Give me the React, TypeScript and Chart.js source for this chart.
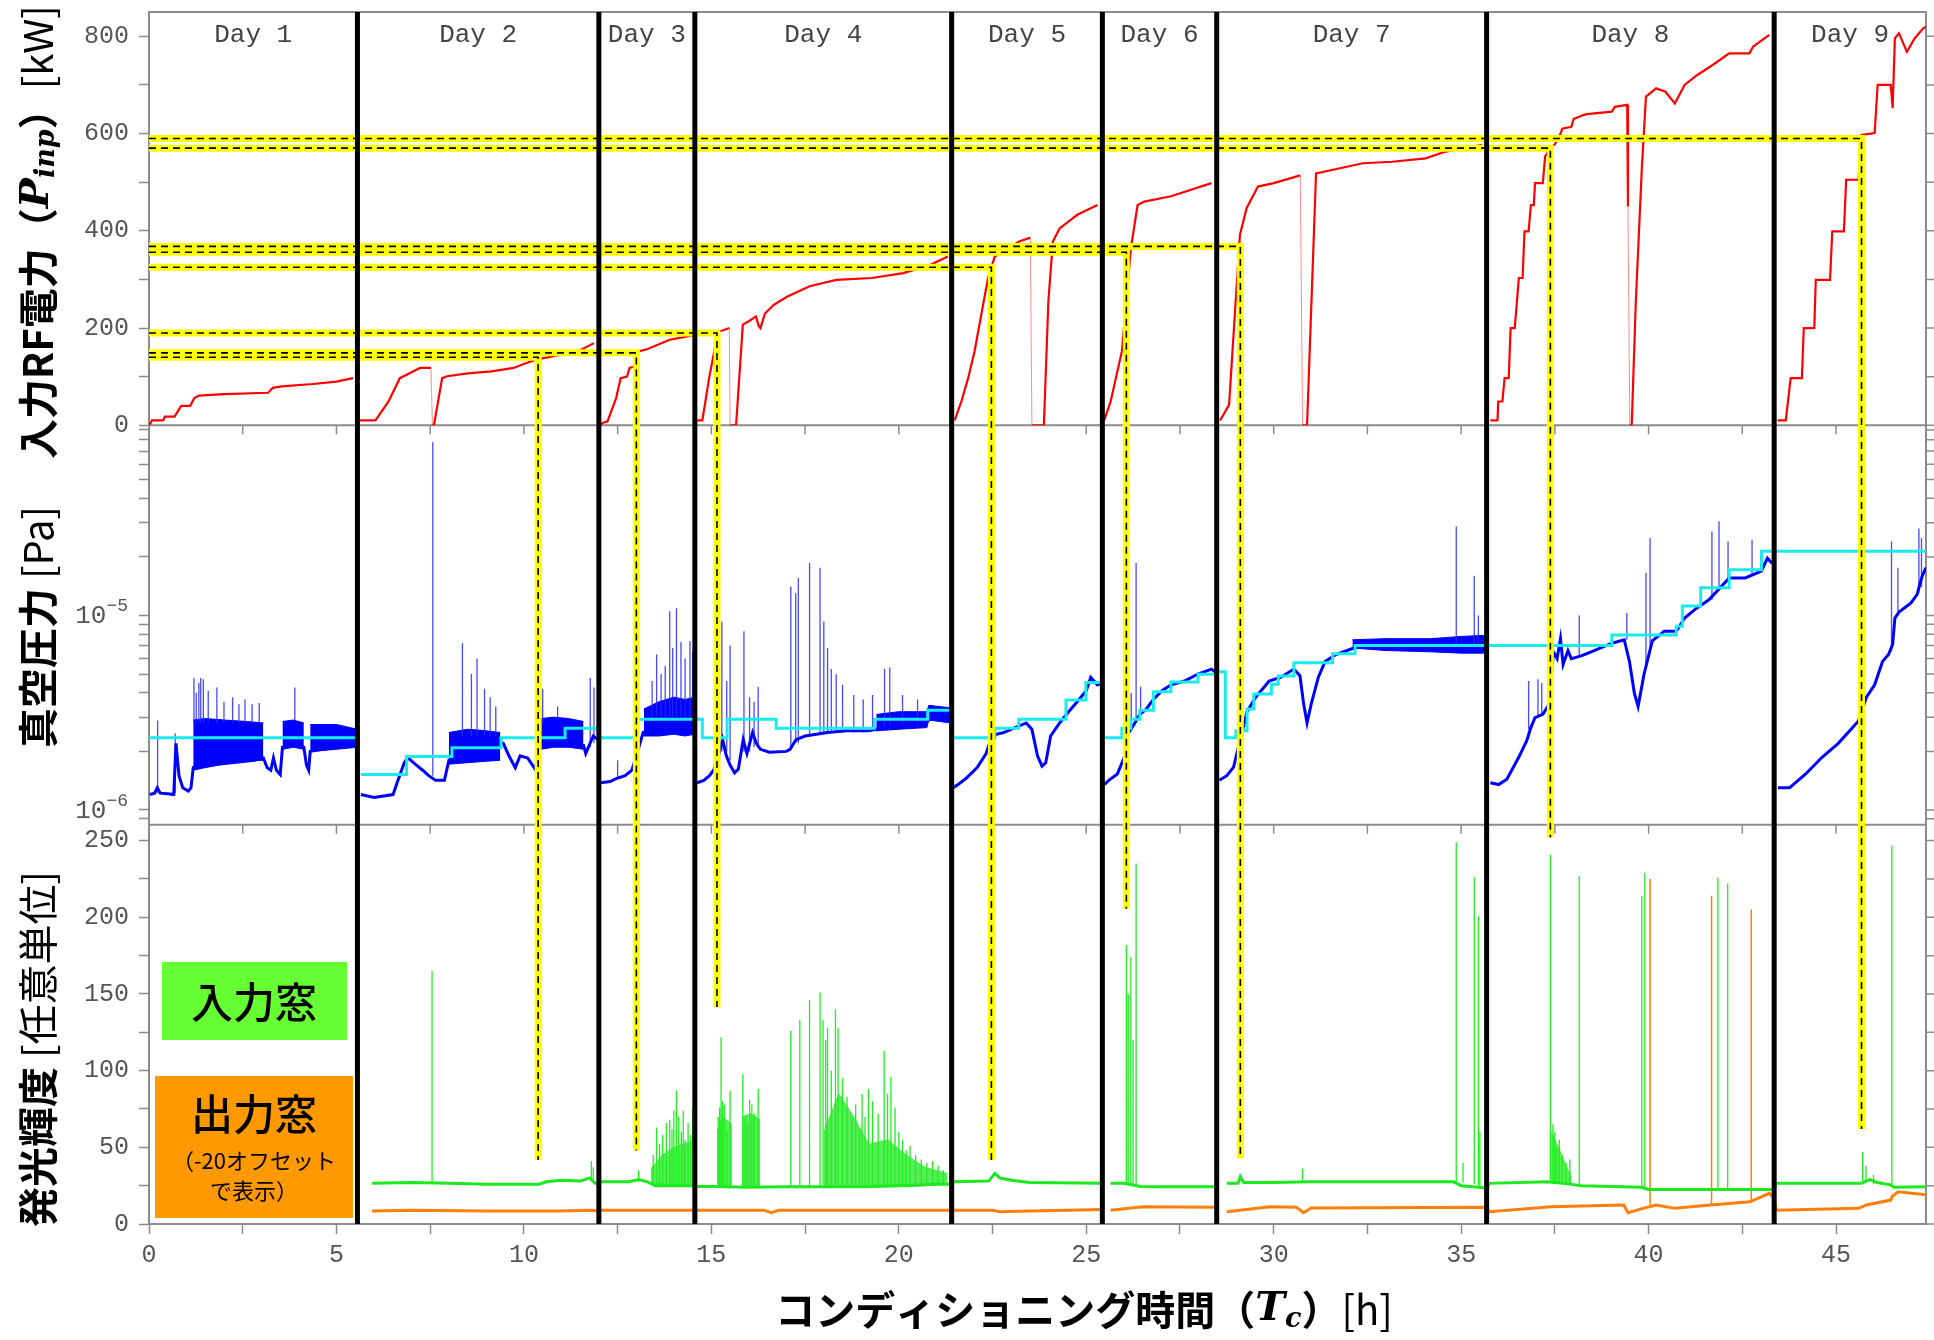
import React, { useEffect, useRef } from 'react';
import { Chart, registerables } from 'chart.js';

Chart.register(...registerables);

type P2 = [number, number];
type P3 = [number, number, number];

// ---------- axis ranges & ticks ----------
const X_MAX = 47.4;
const POWER_MAX = 850;
const PRESSURE_MIN = 8.4e-7;
const PRESSURE_MAX = 9.5e-5;
const LUM_MAX = 260.4;

const timeTicks = [0, 2.5, 5, 7.5, 10, 12.5, 15, 17.5, 20, 22.5, 25, 27.5, 30, 32.5, 35, 37.5, 40, 42.5, 45];
const powerTicks = [0, 100, 200, 300, 400, 500, 600, 700, 800];
const pressureTicks = [9e-7, 1e-6, 2e-6, 3e-6, 4e-6, 5e-6, 6e-6, 7e-6, 8e-6, 9e-6, 1e-5, 2e-5, 3e-5, 4e-5, 5e-5, 6e-5, 7e-5, 8e-5, 9e-5];
const pressureMajorTicks: [number, string][] = [[1e-6, '\u22126'], [1e-5, '\u22125']];
const lumTicks = [0, 25, 50, 75, 100, 125, 150, 175, 200, 225, 250];

// ---------- days ----------
const dayBoundaries = [5.56, 12.0, 14.56, 21.41, 25.43, 28.48, 35.68, 43.35];
const dayLabels = ['Day 1', 'Day 2', 'Day 3', 'Day 4', 'Day 5', 'Day 6', 'Day 7', 'Day 8', 'Day 9'];

// ---------- yellow guide markers ----------
const markerPower = [140, 149, 190, 325, 356, 368, 570, 590];
const markerTime = [10.38, 13.0, 15.15, 22.47, 26.07, 29.11, 37.38, 45.68];
const markerLumEnd = [41.7, 48, 141.5, 41.7, 205.5, 42.7, 252, 62];

// ---------- input RF power [kW] ----------
const rfPower: (P2 | null)[] = [
  [0, 0], [0.08, 10], [0.38, 10], [0.42, 18], [0.68, 18], [0.86, 40], [1.1, 40], [1.21, 56], [1.33, 61], [2.0, 64], [3.18, 67], [3.3, 77], [3.54, 80], [4.37, 85], [5.0, 90], [5.44, 97], null,
  [5.62, 10], [6.04, 10], [6.39, 49], [6.69, 97], [6.87, 104], [7.23, 118], [7.52, 118], [7.56, 0], [7.6, 0], [7.82, 97], [7.95, 101], [8.5, 107], [9.13, 111], [9.73, 118], [9.96, 125], [10.32, 135], [10.92, 144], [11.51, 155], [11.87, 169], null,
  [12.05, 0], [12.1, 5], [12.23, 8], [12.46, 56], [12.58, 97], [12.75, 100], [12.82, 118], [12.95, 121], [13.06, 152], [13.3, 157], [13.89, 176], [14.37, 183], [14.55, 186], null,
  [14.62, 10], [14.76, 10], [14.94, 97], [15.06, 145], [15.18, 193], [15.3, 195], [15.48, 200], [15.5, 0], [15.66, 0], [15.84, 207], [16.0, 214], [16.19, 224], [16.26, 205], [16.31, 200], [16.43, 230], [16.67, 248], [17.03, 265], [17.62, 286], [18.33, 299], [19.28, 303], [20.12, 313], [20.84, 330], [21.31, 347], null,
  [21.49, 10], [21.67, 49], [21.85, 97], [22.02, 152], [22.38, 303], [22.56, 347], [23.21, 378], [23.51, 386], [23.55, 0], [23.87, 0], [23.99, 255], [24.11, 378], [24.29, 405], [24.76, 433], [25.3, 453], null,
  [25.48, 10], [25.65, 49], [25.95, 152], [26.19, 364], [26.37, 453], [26.55, 460], [27.26, 471], [28.34, 498], null,
  [28.57, 10], [28.81, 42], [29.1, 392], [29.28, 447], [29.58, 491], [30.0, 498], [30.71, 514], [30.77, 0], [30.89, 0], [31.13, 518], [31.55, 525], [32.38, 539], [33.16, 542], [34.05, 549], [34.59, 563], [35.56, 577], null,
  [35.78, 10], [35.97, 10], [35.99, 49], [36.1, 49], [36.16, 97], [36.27, 97], [36.32, 200], [36.43, 200], [36.54, 303], [36.64, 303], [36.69, 399], [36.8, 399], [36.86, 453], [36.94, 453], [36.97, 498], [37.18, 498], [37.24, 553], [37.4, 572], [37.5, 578], [37.61, 592], [37.7, 610], [37.94, 614], [38.0, 630], [38.26, 638], [38.35, 640], [39.02, 645], [39.1, 655], [39.43, 659], [39.45, 450], [39.5, 0], [39.55, 0], [39.66, 255], [39.82, 529], [39.93, 676], [40.2, 693], [40.45, 686], [40.7, 662], [40.96, 700], [41.29, 720], [41.71, 741], [42.15, 765], [42.69, 765], [42.79, 779], [43.22, 803], null,
  [43.44, 10], [43.66, 10], [43.79, 97], [44.09, 97], [44.14, 200], [44.42, 200], [44.46, 299], [44.84, 299], [44.9, 399], [45.21, 399], [45.27, 505], [45.6, 505], [45.68, 597], [46.03, 601], [46.11, 700], [46.46, 700], [46.51, 652], [46.57, 796], [46.68, 806], [46.89, 768], [47.1, 796], [47.32, 816], [47.4, 820],
];

// ---------- vacuum pressure [Pa] ----------
const pressureTrace: (P2 | null)[] = [
  [0.02, 1.2e-6], [0.15, 1.22e-6], [0.22, 1.3e-6], [0.3, 1.22e-6], [0.5, 1.21e-6], [0.66, 1.2e-6], [0.72, 2.2e-6], [0.8, 1.5e-6], [0.9, 1.3e-6], [1.05, 1.25e-6], [1.12, 1.3e-6], [1.18, 1.65e-6], [1.6, 1.7e-6], [2.2, 1.75e-6], [2.8, 1.8e-6], [3.05, 1.85e-6], [3.15, 1.65e-6], [3.25, 1.6e-6], [3.32, 1.85e-6], [3.4, 1.6e-6], [3.5, 1.52e-6], [3.56, 2.1e-6], [3.85, 2.15e-6], [4.13, 2.1e-6], [4.2, 1.7e-6], [4.26, 1.6e-6], [4.3, 2.0e-6], [5.0, 2.1e-6], [5.54, 2.15e-6], null,
  [5.65, 1.2e-6], [6.0, 1.16e-6], [6.51, 1.2e-6], [6.63, 1.4e-6], [6.81, 1.75e-6], [6.9, 1.86e-6], [7.1, 1.72e-6], [7.3, 1.6e-6], [7.46, 1.5e-6], [7.64, 1.42e-6], [7.88, 1.42e-6], [8.0, 1.8e-6], [8.5, 1.8e-6], [9.0, 1.85e-6], [9.37, 2.2e-6], [9.45, 2.2e-6], [9.6, 1.9e-6], [9.77, 1.65e-6], [9.9, 1.9e-6], [10.1, 1.85e-6], [10.3, 1.62e-6], [10.44, 2.15e-6], [11.0, 2.2e-6], [11.59, 2.15e-6], [11.65, 1.95e-6], [11.72, 2.1e-6], [11.85, 2.4e-6], [11.98, 2.3e-6], null,
  [12.05, 1.38e-6], [12.3, 1.4e-6], [12.46, 1.45e-6], [12.7, 1.5e-6], [12.88, 1.6e-6], [13.0, 1.9e-6], [13.18, 2.5e-6], [13.6, 2.6e-6], [14.0, 2.7e-6], [14.55, 2.7e-6], null,
  [14.62, 1.38e-6], [14.8, 1.42e-6], [14.95, 1.5e-6], [15.06, 1.6e-6], [15.18, 1.85e-6], [15.3, 2.3e-6], [15.4, 1.9e-6], [15.5, 1.7e-6], [15.62, 1.55e-6], [15.72, 1.62e-6], [15.85, 2.3e-6], [15.95, 1.95e-6], [16.1, 2.5e-6], [16.2, 2.2e-6], [16.31, 2.05e-6], [16.55, 1.98e-6], [17.0, 2.0e-6], [17.1, 2.05e-6], [17.26, 2.3e-6], [17.5, 2.4e-6], [17.8, 2.45e-6], [18.1, 2.5e-6], [18.6, 2.55e-6], [19.2, 2.55e-6], [19.4, 2.6e-6], [19.8, 2.7e-6], [20.3, 2.75e-6], [20.8, 2.9e-6], [21.0, 3.1e-6], [21.38, 3.0e-6], null,
  [21.45, 1.3e-6], [21.6, 1.36e-6], [21.79, 1.45e-6], [22.09, 1.65e-6], [22.33, 1.95e-6], [22.45, 2.3e-6], [22.6, 2.45e-6], [22.8, 2.5e-6], [23.1, 2.65e-6], [23.4, 2.8e-6], [23.55, 2.6e-6], [23.7, 1.9e-6], [23.82, 1.68e-6], [23.92, 1.75e-6], [24.05, 2.4e-6], [24.29, 2.8e-6], [24.53, 3.2e-6], [24.76, 3.6e-6], [25.0, 4.1e-6], [25.12, 4.8e-6], [25.3, 4.4e-6], [25.4, 4.5e-6], null,
  [25.48, 1.35e-6], [25.6, 1.42e-6], [25.83, 1.53e-6], [26.01, 1.86e-6], [26.13, 2.5e-6], [26.25, 2.7e-6], [26.43, 3.1e-6], [26.6, 3.3e-6], [26.79, 3.7e-6], [27.02, 4.1e-6], [27.26, 4.4e-6], [27.62, 4.6e-6], [27.98, 5.0e-6], [28.34, 5.3e-6], [28.45, 5.1e-6], null,
  [28.55, 1.42e-6], [28.75, 1.5e-6], [28.93, 1.66e-6], [29.1, 2.27e-6], [29.29, 3.2e-6], [29.52, 3.8e-6], [29.88, 4.6e-6], [30.18, 4.8e-6], [30.54, 5.3e-6], [30.7, 4.9e-6], [30.8, 3.5e-6], [30.89, 2.8e-6], [31.0, 3.5e-6], [31.19, 4.8e-6], [31.37, 5.8e-6], [31.66, 6.3e-6], [32.14, 6.8e-6], [32.6, 7.1e-6], [33.5, 7.0e-6], [34.0, 6.9e-6], [35.0, 6.9e-6], [35.62, 6.9e-6], null,
  [35.78, 1.38e-6], [36.0, 1.35e-6], [36.22, 1.44e-6], [36.54, 1.87e-6], [36.75, 2.27e-6], [36.86, 2.65e-6], [36.97, 2.98e-6], [37.18, 3.1e-6], [37.35, 3.5e-6], [37.46, 6.5e-6], [37.56, 6.0e-6], [37.65, 7.6e-6], [37.72, 5.6e-6], [37.85, 6.6e-6], [37.94, 6.0e-6], [38.2, 6.2e-6], [38.47, 6.5e-6], [39.02, 7.2e-6], [39.35, 7.5e-6], [39.49, 5.8e-6], [39.62, 4.0e-6], [39.72, 3.4e-6], [39.88, 5.0e-6], [40.1, 7.4e-6], [40.42, 8.3e-6], [40.74, 8.3e-6], [40.96, 9.7e-6], [41.28, 1.09e-5], [41.6, 1.2e-5], [41.82, 1.33e-5], [42.15, 1.56e-5], [42.58, 1.56e-5], [43.01, 1.69e-5], [43.17, 1.97e-5], [43.3, 1.85e-5], null,
  [43.45, 1.3e-6], [43.76, 1.3e-6], [44.19, 1.53e-6], [44.62, 1.86e-6], [45.06, 2.2e-6], [45.6, 2.87e-6], [45.81, 3.8e-6], [46.03, 4.4e-6], [46.24, 5.8e-6], [46.4, 6.3e-6], [46.51, 7.1e-6], [46.57, 9.7e-6], [46.68, 1.04e-5], [47.0, 1.16e-5], [47.16, 1.28e-5], [47.3, 1.6e-5], [47.4, 1.76e-5],
];

// noisy bands: [t, low, high]
const noiseBandDay1a: P3[] = [[1.18, 1.6e-6, 2.9e-6], [1.5, 1.65e-6, 2.95e-6], [2.0, 1.72e-6, 2.9e-6], [2.6, 1.78e-6, 2.85e-6], [3.05, 1.8e-6, 2.8e-6]];
const noiseBandDay1b: P3[] = [[3.56, 2.05e-6, 2.85e-6], [3.85, 2.1e-6, 2.9e-6], [4.13, 2.05e-6, 2.8e-6]];
const noiseBandDay1c: P3[] = [[4.3, 2.0e-6, 2.75e-6], [5.0, 2.05e-6, 2.75e-6], [5.55, 2.1e-6, 2.6e-6]];
const noiseBandDay2a: P3[] = [[8.0, 1.72e-6, 2.5e-6], [8.5, 1.75e-6, 2.6e-6], [9.0, 1.78e-6, 2.55e-6], [9.37, 1.8e-6, 2.5e-6]];
const noiseBandDay2b: P3[] = [[10.44, 2.05e-6, 2.95e-6], [10.8, 2.1e-6, 3.0e-6], [11.2, 2.1e-6, 2.95e-6], [11.59, 2.05e-6, 2.85e-6]];
const noiseBandDay3: P3[] = [[13.2, 2.4e-6, 3.3e-6], [13.6, 2.4e-6, 3.6e-6], [14.0, 2.45e-6, 3.8e-6], [14.3, 2.4e-6, 3.7e-6], [14.55, 2.45e-6, 3.8e-6]];
const noiseBandDay4: P3[] = [[19.4, 2.55e-6, 3.1e-6], [20.0, 2.6e-6, 3.2e-6], [20.75, 2.65e-6, 3.2e-6], [20.8, 2.9e-6, 3.45e-6], [21.38, 2.8e-6, 3.35e-6]];
const noiseBandDay7: P3[] = [[32.1, 6.8e-6, 7.5e-6], [33.0, 6.6e-6, 7.6e-6], [34.2, 6.5e-6, 7.6e-6], [35.0, 6.4e-6, 7.8e-6], [35.65, 6.4e-6, 7.9e-6]];

// pressure bursts: [t, base, peak]
const pressureSpikes: P3[] = [
  [0.23, 1.22e-6, 2.88e-6], [0.7, 1.22e-6, 2.47e-6], [1.2, 2.8e-6, 4.77e-6], [1.26, 2.8e-6, 4.0e-6], [1.33, 2.8e-6, 4.5e-6], [1.38, 2.8e-6, 4.77e-6], [1.45, 2.8e-6, 4.7e-6], [1.58, 2.8e-6, 4.1e-6], [1.81, 2.8e-6, 4.26e-6], [2.0, 2.8e-6, 3.6e-6], [2.23, 2.8e-6, 3.8e-6], [2.4, 2.8e-6, 3.5e-6], [2.56, 2.8e-6, 3.7e-6], [2.75, 2.8e-6, 3.5e-6], [2.94, 2.8e-6, 3.55e-6], [3.89, 2.9e-6, 4.26e-6],
  [7.57, 1.5e-6, 7.8e-5], [8.36, 2.4e-6, 7.2e-6], [8.6, 2.4e-6, 5.0e-6], [8.75, 2.4e-6, 6.0e-6], [8.95, 2.4e-6, 4.2e-6], [9.1, 2.4e-6, 3.8e-6], [9.25, 2.4e-6, 3.4e-6], [10.5, 2.8e-6, 4.2e-6], [10.9, 2.9e-6, 3.4e-6], [11.77, 2.1e-6, 4.77e-6], [11.87, 2.2e-6, 4.26e-6],
  [12.5, 1.45e-6, 1.8e-6], [13.42, 3.0e-6, 4.6e-6], [13.54, 3.0e-6, 6.3e-6], [13.66, 3.0e-6, 5.0e-6], [13.77, 3.0e-6, 5.5e-6], [13.89, 3.0e-6, 1.05e-5], [13.97, 3.0e-6, 6.8e-6], [14.07, 3.0e-6, 1.09e-5], [14.19, 3.0e-6, 7.3e-6], [14.3, 3.0e-6, 6.0e-6], [14.43, 3.0e-6, 7.4e-6], [14.5, 3.0e-6, 6.5e-6],
  [15.28, 2.0e-6, 9.3e-6], [15.41, 2.0e-6, 4.6e-6], [15.5, 1.8e-6, 7.0e-6], [15.87, 2.0e-6, 8.3e-6], [16.02, 2.0e-6, 3.8e-6], [16.14, 2.1e-6, 3.6e-6], [16.25, 2.1e-6, 4.3e-6], [17.12, 2.05e-6, 1.41e-5], [17.25, 2.2e-6, 1.3e-5], [17.32, 2.2e-6, 1.56e-5], [17.62, 2.4e-6, 1.86e-5], [17.9, 2.45e-6, 1.76e-5], [18.0, 2.45e-6, 9.3e-6], [18.1, 2.5e-6, 6.8e-6], [18.2, 2.5e-6, 5.3e-6], [18.33, 2.5e-6, 5.0e-6], [18.5, 2.5e-6, 4.4e-6], [18.8, 2.5e-6, 3.9e-6], [19.05, 2.5e-6, 3.7e-6], [19.3, 2.55e-6, 3.9e-6], [19.62, 2.6e-6, 5.3e-6], [19.76, 2.6e-6, 5.4e-6], [20.1, 2.7e-6, 3.9e-6], [20.5, 2.7e-6, 3.7e-6],
  [26.2, 2.6e-6, 4.0e-6], [26.33, 2.9e-6, 1.86e-5], [26.45, 3.1e-6, 4.3e-6],
  [34.87, 7.0e-6, 2.87e-5], [35.35, 7.0e-6, 1.6e-5], [35.46, 7.0e-6, 1.0e-5],
  [36.8, 2.6e-6, 4.6e-6], [37.05, 3.0e-6, 4.7e-6], [37.15, 3.1e-6, 4.5e-6], [37.4, 4.0e-6, 7.7e-6], [38.15, 6.2e-6, 1.0e-5], [39.42, 7.5e-6, 1.03e-5], [39.93, 5.5e-6, 1.66e-5], [40.04, 6.5e-6, 2.5e-5], [41.69, 1.2e-5, 2.7e-5], [41.88, 1.35e-5, 3.05e-5], [42.12, 1.5e-5, 2.4e-5], [42.76, 1.6e-5, 2.45e-5],
  [46.48, 6.5e-6, 2.4e-5], [46.65, 1.0e-5, 1.76e-5], [47.21, 1.3e-5, 2.8e-5], [47.28, 1.4e-5, 2.5e-5],
];

// interlock threshold (cyan steps): [start time, level]
const pressureThreshold: (P2 | null)[] = [
  [0, 2.35e-6], [5.56, 2.35e-6], null,
  [5.65, 1.52e-6], [6.87, 1.88e-6], [8.08, 2.09e-6], [9.39, 2.35e-6], [11.1, 2.63e-6], [12.0, 2.63e-6], null,
  [12.05, 2.35e-6], [13.0, 2.93e-6], [14.76, 2.35e-6], [15.42, 2.93e-6], [16.73, 2.63e-6], [19.35, 2.93e-6], [20.77, 3.26e-6], [21.41, 3.26e-6], null,
  [21.45, 2.35e-6], [22.56, 2.63e-6], [23.2, 2.93e-6], [24.46, 3.67e-6], [24.99, 4.52e-6], [25.43, 4.52e-6], null,
  [25.47, 2.35e-6], [25.95, 2.63e-6], [26.19, 2.93e-6], [26.43, 3.26e-6], [26.79, 4.05e-6], [27.26, 4.55e-6], [27.98, 4.98e-6], [28.48, 5.13e-6],
  [28.71, 2.35e-6], [28.99, 2.55e-6], [29.29, 3.3e-6], [29.47, 3.94e-6], [29.94, 4.43e-6], [30.12, 4.89e-6], [30.54, 5.72e-6], [31.57, 6.35e-6], [32.17, 7.0e-6], [39.02, 7.93e-6], [40.74, 8.81e-6], [40.9, 1.12e-5], [41.39, 1.39e-5], [42.15, 1.72e-5], [43.01, 2.14e-5], [47.4, 2.14e-5],
];

// ---------- luminosity [a.u.] ----------
const lumInputWindow: (P2 | null)[] = [
  [5.95, 26.5], [7.0, 27], [8.0, 26.5], [9.0, 26], [10.4, 26], [10.6, 27.5], [11.0, 28.5], [11.5, 28], [11.75, 30], [11.9, 26.5], [12.0, 26.5],
  [12.05, 27.5], [12.8, 27.5], [13.06, 29], [13.3, 27.5], [13.5, 25], [14.0, 25], [14.56, 25],
  [14.62, 24.5], [15.0, 24.5], [16.0, 24], [17.0, 24.3], [18.0, 24.3], [19.0, 24.3], [20.0, 25], [21.0, 26], [21.41, 26], null,
  [21.45, 27.5], [22.4, 28], [22.56, 33], [22.7, 30], [23.0, 28.5], [23.5, 27], [25.43, 26.5], null,
  [25.65, 26.5], [26.0, 26.5], [26.45, 24.5], [27.0, 24.3], [28.48, 24.3], null,
  [28.75, 26.5], [29.05, 26.5], [29.11, 31], [29.2, 27], [30.0, 27], [31.0, 27.5], [33.0, 27.5], [34.8, 27.5], [35.0, 25], [35.68, 23.5],
  [35.75, 26.5], [37.3, 27.5], [37.9, 26], [38.2, 25], [39.8, 24], [40.0, 22.5], [43.35, 22.5],
  [43.4, 26.5], [45.68, 26.5], [45.9, 29], [46.1, 27], [46.45, 25.5], [46.55, 24], [47.4, 24.3],
];

// dense luminous activity: [t, base, envelope]
const inputNoiseDay3: P3[] = [[13.38, 27, 36], [13.7, 26, 45], [14.0, 25, 50], [14.48, 25, 54]];
const inputNoiseDay4a: P3[] = [[15.15, 24.5, 60], [15.3, 24.5, 70], [15.55, 24.5, 65]];
const inputNoiseDay4b: P3[] = [[15.82, 24.5, 70], [16.05, 24.5, 72], [16.3, 24.5, 68]];
const inputNoiseDay4c: P3[] = [[18.0, 24.3, 60], [18.4, 24.3, 85], [18.8, 24.3, 70], [19.2, 24.3, 52], [19.7, 24.3, 55], [20.2, 24.5, 45], [20.7, 25, 37], [21.3, 26, 33]];
const inputNoiseDay8: P3[] = [[37.4, 27, 60], [37.6, 27, 50], [37.8, 26.5, 38], [37.95, 26, 30]];

const inputWindowSpikes: P3[] = [
  [7.55, 27, 165], [11.8, 28, 41], [11.85, 28, 37],
  [13.06, 27.5, 35], [13.45, 25, 45], [13.54, 25, 63], [13.62, 25, 52], [13.7, 25, 58], [13.8, 25, 66], [13.89, 25, 68], [13.95, 25, 62], [14.0, 25, 74], [14.07, 25, 87], [14.13, 25, 70], [14.2, 25, 60], [14.25, 25, 74], [14.3, 25, 55], [14.38, 25, 66], [14.45, 25, 58], [14.5, 25, 75],
  [15.18, 24.5, 70], [15.22, 24.5, 76], [15.26, 24.5, 122], [15.3, 24.5, 80], [15.35, 24.5, 78], [15.42, 24.5, 60], [15.5, 24.5, 87], [15.84, 24.5, 98], [15.9, 24.5, 70], [15.95, 24.5, 66], [16.02, 24.5, 81], [16.08, 24.5, 78], [16.14, 24.5, 72], [16.25, 24.5, 88],
  [17.12, 24.3, 126], [17.36, 24.3, 133], [17.62, 24.3, 146], [17.9, 24.3, 151], [17.98, 24.3, 133], [18.05, 24.3, 120], [18.1, 24.3, 128], [18.2, 24.3, 100], [18.31, 24.3, 140], [18.38, 24.3, 128], [18.5, 24.3, 95], [18.62, 24.3, 83], [18.75, 24.3, 70], [18.85, 24.3, 78], [18.95, 24.3, 62], [19.02, 24.3, 85], [19.1, 24.3, 70], [19.19, 24.3, 88], [19.3, 24.3, 80], [19.45, 24.3, 72], [19.61, 24.3, 113], [19.7, 24.3, 85], [19.79, 24.3, 96], [19.9, 24.3, 76], [20.0, 25, 60], [20.1, 25, 55], [20.2, 25, 48], [20.3, 25, 51], [20.45, 25, 45], [20.6, 25, 42], [20.75, 25, 40], [20.9, 25, 41], [21.05, 26, 38], [21.19, 26, 35],
  [26.07, 26.5, 182], [26.12, 26.5, 150], [26.19, 26.5, 174], [26.25, 26, 120], [26.33, 25, 235],
  [30.77, 27.5, 36], [34.87, 27.5, 249], [35.05, 27, 40], [35.35, 26, 226], [35.46, 25, 201], [35.5, 25, 60],
  [37.38, 27.5, 241], [37.45, 27.5, 65], [37.5, 27.5, 60], [37.55, 27.5, 50], [37.62, 27, 55], [37.7, 27, 45], [37.8, 26.5, 40], [37.9, 26, 42], [38.15, 25, 227], [39.82, 24, 214], [39.9, 24, 229], [41.85, 22.5, 226], [42.11, 22.5, 222],
  [45.71, 26.5, 47], [45.8, 27, 38], [46.0, 26, 32], [46.49, 25.5, 247],
];

const lumOutputWindow: (P2 | null)[] = [
  [5.95, 8.5], [7.0, 9], [9.0, 8.5], [11.0, 8.5], [11.8, 9], [12.0, 8.5],
  [12.05, 9], [14.56, 9], [14.62, 9], [16.4, 9], [16.6, 7.4], [16.8, 9], [21.41, 9], null,
  [21.45, 9], [22.5, 9], [22.7, 8], [23.5, 8.5], [25.43, 9.5], null,
  [25.65, 9], [26.5, 11.3], [28.48, 11], null,
  [28.75, 8], [29.9, 11.3], [30.6, 11], [30.8, 7.4], [31.0, 10.5], [35.68, 11],
  [35.75, 8], [37.4, 11.3], [39.34, 12.4], [39.45, 7.4], [39.9, 10.5], [40.2, 12.4], [40.7, 10.2], [41.5, 12], [42.7, 14.5], [43.22, 20], [43.35, 17],
  [43.4, 9], [45.6, 10.2], [45.81, 12.4], [46.46, 15.6], [46.5, 18], [46.66, 21], [47.4, 19],
];

const outputWindowSpikes: P3[] = [[40.04, 12.4, 225], [41.68, 12.8, 214], [42.74, 14.5, 205]];

// ---------- helpers ----------
function toXY(arr: (P2 | null)[]) {
  const out: { x: number; y: number | null }[] = [];
  let lastX = 0;
  for (const p of arr) {
    if (p) { out.push({ x: p[0], y: p[1] }); lastX = p[0]; }
    else out.push({ x: lastX, y: null });
  }
  return out;
}
function spikesXY(arr: P3[]) {
  const out: { x: number; y: number | null }[] = [];
  for (const s of arr) {
    out.push({ x: s[0], y: s[1] }, { x: s[0], y: s[2] }, { x: s[0], y: null });
  }
  return out;
}

type Run = { text: string; font: string; dy?: number };
function drawRuns(ctx: CanvasRenderingContext2D, runs: Run[], cx: number, cy: number) {
  let total = 0;
  const widths = runs.map((r) => { ctx.font = r.font; const w = ctx.measureText(r.text).width; total += w; return w; });
  let x = cx - total / 2;
  ctx.textAlign = 'left';
  ctx.textBaseline = 'middle';
  ctx.fillStyle = '#000';
  runs.forEach((r, i) => { ctx.font = r.font; ctx.fillText(r.text, x, cy + (r.dy || 0)); x += widths[i]; });
}

const CJK = '"Noto Sans CJK JP"';
const MONO = '"Liberation Mono", monospace';
const MATH = '"DejaVu Serif"';
const TICK_COLOR = '#555';
const FRAME = '#8c8c8c';

const decorPlugin = {
  id: 'decor',
  beforeDatasetsDraw(chart: any) {
    const { ctx, chartArea: a, scales } = chart;
    ctx.save();
    ctx.strokeStyle = FRAME;
    ctx.lineWidth = 2;
    ctx.beginPath();
    ctx.moveTo(a.left, a.top); ctx.lineTo(a.right, a.top); ctx.lineTo(a.right, a.bottom);
    for (const id of ['yP', 'yV']) { const s = scales[id]; ctx.moveTo(a.left, s.bottom); ctx.lineTo(a.right, s.bottom); }
    ctx.stroke();
    ctx.lineWidth = 1.5;
    ctx.beginPath();
    for (const id of ['yV', 'yL']) {
      const top = scales[id].top;
      for (const v of timeTicks) { const px = scales.x.getPixelForValue(v); ctx.moveTo(px, top); ctx.lineTo(px, top + 9); }
    }
    for (const id of ['yP', 'yV', 'yL']) {
      const s = scales[id];
      for (const t of s.ticks) { const py = s.getPixelForValue(t.value); ctx.moveTo(a.right, py); ctx.lineTo(a.right + 8, py); }
    }
    ctx.stroke();
    ctx.restore();
  },
  afterDatasetsDraw(chart: any) {
    const { ctx, chartArea: a, scales } = chart;
    const { x, yP, yL } = scales;
    ctx.save();
    const paths = markerPower.map((p, i) => ({
      y0: yP.getPixelForValue(p), x1: x.getPixelForValue(markerTime[i]), y1: yL.getPixelForValue(markerLumEnd[i]),
    }));
    ctx.lineJoin = 'miter';
    ctx.strokeStyle = '#ffff00';
    ctx.lineWidth = 7;
    for (const m of paths) { ctx.beginPath(); ctx.moveTo(a.left, m.y0); ctx.lineTo(m.x1, m.y0); ctx.lineTo(m.x1, m.y1); ctx.stroke(); }
    ctx.strokeStyle = '#000';
    ctx.lineWidth = 1.6;
    ctx.setLineDash([7, 5]);
    for (const m of paths) { ctx.beginPath(); ctx.moveTo(a.left, m.y0); ctx.lineTo(m.x1, m.y0); ctx.lineTo(m.x1, m.y1); ctx.stroke(); }
    ctx.setLineDash([]);
    ctx.strokeStyle = '#000';
    ctx.lineWidth = 5;
    ctx.beginPath();
    for (const b of dayBoundaries) { const px = x.getPixelForValue(b); ctx.moveTo(px, a.top); ctx.lineTo(px, a.bottom); }
    ctx.stroke();
    ctx.restore();
  },
  afterDraw(chart: any) {
    const { ctx, chartArea: a, scales } = chart;
    const { x, yV } = scales;
    ctx.save();
    // day labels
    const edges = [0, ...dayBoundaries, X_MAX];
    ctx.font = `26px ${MONO}`;
    ctx.fillStyle = '#444';
    ctx.textAlign = 'center';
    ctx.textBaseline = 'middle';
    dayLabels.forEach((d, i) => {
      const cx = (x.getPixelForValue(edges[i]) + x.getPixelForValue(edges[i + 1])) / 2;
      ctx.fillText(d, cx, a.top + 23);
    });
    // log axis labels
    for (const [v, exp] of pressureMajorTicks) {
      const py = yV.getPixelForValue(v);
      const right = yV.right - 21;
      ctx.fillStyle = TICK_COLOR;
      ctx.textAlign = 'right';
      ctx.textBaseline = 'middle';
      ctx.font = `18px ${MONO}`;
      const w = ctx.measureText(exp).width;
      ctx.fillText(exp, right, py - 9);
      ctx.font = `26px ${MONO}`;
      ctx.fillText('10', right - w, py + 1);
    }
    // axis titles
    const bold = `bold 40px ${CJK}`;
    const reg = `40px ${CJK}`;
    const titles: { runs: Run[]; cy: number }[] = [
      { runs: [{ text: '入力RF電力（', font: bold }, { text: 'P', font: `italic bold 40px ${MATH}` }, { text: 'inp', font: `italic bold 27px ${MATH}`, dy: 9 }, { text: '）', font: bold }, { text: '[kW]', font: reg }], cy: 232 },
      { runs: [{ text: '真空圧力', font: bold }, { text: ' [Pa]', font: reg }], cy: 627 },
      { runs: [{ text: '発光輝度', font: bold }, { text: ' [任意単位]', font: reg }], cy: 1049 },
    ];
    for (const t of titles) {
      ctx.save();
      ctx.translate(38, t.cy);
      ctx.rotate(-Math.PI / 2);
      drawRuns(ctx, t.runs, 0, 0);
      ctx.restore();
    }
    drawRuns(ctx, [
      { text: 'コンディショニング時間（', font: bold },
      { text: 'T', font: `italic bold 40px ${MATH}` },
      { text: 'c', font: `italic bold 27px ${MATH}`, dy: 10 },
      { text: '）', font: bold },
      { text: '[h]', font: reg },
    ], 1084, 1310);
    // window legend boxes
    ctx.fillStyle = '#66ff33';
    ctx.fillRect(162, 962, 185, 78);
    ctx.fillStyle = '#ff9900';
    ctx.fillRect(155, 1076, 198, 142);
    ctx.fillStyle = '#000';
    ctx.textAlign = 'center';
    ctx.textBaseline = 'middle';
    ctx.font = `500 42px ${CJK}`;
    ctx.fillText('入力窓', 254, 1002);
    ctx.fillText('出力窓', 254, 1114);
    ctx.font = `22px ${CJK}`;
    ctx.fillText('（-20オフセット', 254, 1161);
    ctx.fillText('で表示）', 254, 1191);
    ctx.restore();
  },
};

const BLUE = '#0000ff';
const GREEN = '#1ee81e';

function buildDatasets() {
  const ds: any[] = [];
  const base = { pointRadius: 0, pointHoverRadius: 0, fill: false, tension: 0 };
  ds.push({
    ...base, label: 'RF power', data: toXY(rfPower), yAxisID: 'yP', borderColor: '#ff0000', borderWidth: 2.2, order: 1,
    segment: {
      borderWidth: (c: any) => (c.p1.parsed.y === 0 && c.p0.parsed.y > 50 ? 1 : 2.2),
      borderColor: (c: any) => (c.p1.parsed.y === 0 && c.p0.parsed.y > 50 ? 'rgba(255,90,90,0.7)' : '#ff0000'),
    },
  });
  ds.push({ ...base, label: 'threshold', data: toXY(pressureThreshold), yAxisID: 'yV', borderColor: '#19ecf0', borderWidth: 3, stepped: true, order: 2 });
  ds.push({ ...base, label: 'pressure', data: toXY(pressureTrace), yAxisID: 'yV', borderColor: BLUE, borderWidth: 3, order: 5 });
  ds.push({ ...base, label: 'pressure spikes', data: spikesXY(pressureSpikes), yAxisID: 'yV', borderColor: 'rgba(40,40,255,0.85)', borderWidth: 1.3, order: 6 });
  const bands = [noiseBandDay1a, noiseBandDay1b, noiseBandDay1c, noiseBandDay2a, noiseBandDay2b, noiseBandDay3, noiseBandDay4, noiseBandDay7];
  bands.forEach((b, i) => {
    ds.push({ ...base, label: 'band low ' + i, data: b.map((p) => ({ x: p[0], y: p[1] })), yAxisID: 'yV', borderColor: BLUE, borderWidth: 1, order: 7 });
    ds.push({ ...base, label: 'band high ' + i, data: b.map((p) => ({ x: p[0], y: p[2] })), yAxisID: 'yV', borderColor: BLUE, borderWidth: 1, fill: '-1', backgroundColor: BLUE, order: 7 });
  });
  ds.push({ ...base, label: 'output window', data: toXY(lumOutputWindow), yAxisID: 'yL', borderColor: '#ff7f0a', borderWidth: 3, order: 9 });
  ds.push({ ...base, label: 'output spikes', data: spikesXY(outputWindowSpikes), yAxisID: 'yL', borderColor: '#ff7f0a', borderWidth: 1.5, order: 9 });
  ds.push({ ...base, label: 'input window', data: toXY(lumInputWindow), yAxisID: 'yL', borderColor: GREEN, borderWidth: 3, order: 8 });
  ds.push({ ...base, label: 'input spikes', data: spikesXY(inputWindowSpikes), yAxisID: 'yL', borderColor: '#22ee22', borderWidth: 1.3, order: 8 });
  const greenBands = [inputNoiseDay3, inputNoiseDay4a, inputNoiseDay4b, inputNoiseDay4c, inputNoiseDay8];
  greenBands.forEach((b, i) => {
    ds.push({ ...base, label: 'green low ' + i, data: b.map((p) => ({ x: p[0], y: p[1] })), yAxisID: 'yL', borderColor: GREEN, borderWidth: 1, order: 8 });
    ds.push({ ...base, label: 'green high ' + i, data: b.map((p) => ({ x: p[0], y: p[2] })), yAxisID: 'yL', borderColor: 'rgba(30,232,30,0.6)', borderWidth: 1, fill: '-1', backgroundColor: 'rgba(30,232,30,0.75)', order: 8 });
  });
  return ds;
}

const tickFont = { family: MONO, size: 25 };

export default function App() {
  const ref = useRef<HTMLCanvasElement>(null);
  useEffect(() => {
    const yCommon = (w: number) => ({
      position: 'left',
      stack: 'panels',
      weight: w,
      grid: { drawOnChartArea: false, tickLength: 10, color: FRAME, tickWidth: 1.5 },
      border: { color: FRAME, width: 2 },
      afterFit: (s: any) => { s.width = 149; s.paddingTop = 0; s.paddingBottom = 0; },
    });
    const chart = new Chart(ref.current as HTMLCanvasElement, {
      type: 'line',
      data: { datasets: buildDatasets() },
      options: {
        responsive: false,
        animation: false,
        events: [],
        layout: { padding: { left: 0, right: 8, top: 12, bottom: 0 } },
        plugins: { legend: { display: false }, tooltip: { enabled: false } },
        scales: {
          x: {
            type: 'linear', min: 0, max: X_MAX, position: 'bottom',
            afterBuildTicks: (s: any) => { s.ticks = timeTicks.map((v) => ({ value: v })); },
            afterFit: (s: any) => { s.height = 116; s.paddingLeft = 0; s.paddingRight = 0; },
            ticks: { callback: (v: any) => (v % 5 === 0 ? String(v) : ''), font: tickFont, color: TICK_COLOR, maxRotation: 0, autoSkip: false, padding: 6 },
            grid: { drawOnChartArea: false, tickLength: 10, color: FRAME, tickWidth: 1.5 },
            border: { color: FRAME, width: 2 },
          },
          yP: {
            ...yCommon(3), type: 'linear', min: 0, max: POWER_MAX, stackWeight: 414,
            afterBuildTicks: (s: any) => { s.ticks = powerTicks.map((v) => ({ value: v })); },
            ticks: { callback: (v: any) => (v % 200 === 0 ? String(v) : ''), font: tickFont, color: TICK_COLOR, padding: 10, autoSkip: false },
          },
          yV: {
            ...yCommon(2), type: 'logarithmic', min: PRESSURE_MIN, max: PRESSURE_MAX, stackWeight: 400,
            afterBuildTicks: (s: any) => { s.ticks = pressureTicks.map((v) => ({ value: v })); },
            ticks: { callback: () => '', font: tickFont, color: TICK_COLOR, padding: 10, autoSkip: false },
          },
          yL: {
            ...yCommon(1), type: 'linear', min: 0, max: LUM_MAX, stackWeight: 400,
            afterBuildTicks: (s: any) => { s.ticks = lumTicks.map((v) => ({ value: v })); },
            ticks: { callback: (v: any) => (v % 50 === 0 ? String(v) : ''), font: tickFont, color: TICK_COLOR, padding: 10, autoSkip: false },
          },
        } as any,
      },
      plugins: [decorPlugin],
    } as any);
    return () => chart.destroy();
  }, []);
  return (
    <div style={{ position: 'absolute', left: 0, top: 0, width: 1934, height: 1340, background: '#fff' }}>
      <canvas ref={ref} width={1934} height={1340} style={{ width: 1934, height: 1340, display: 'block' }} />
    </div>
  );
}
